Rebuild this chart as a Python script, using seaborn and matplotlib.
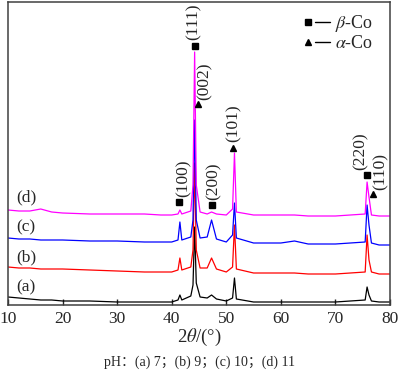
import numpy as np
import pandas as pd
import matplotlib
matplotlib.use("Agg")
import matplotlib.pyplot as plt
from matplotlib.lines import Line2D
from matplotlib.legend_handler import HandlerTuple
import seaborn as sns

# ---------------- data ----------------
two_theta = [10, 12, 14, 16, 18, 20, 25, 30, 35, 38, 40, 41.15, 41.5, 41.85, 43.5, 43.9,
             44.2, 44.5, 45.2, 46.5, 47.3, 48.2, 50.0, 51.15, 51.5, 51.85, 55, 60, 62.5,
             65, 70, 75.45, 75.8, 76.15, 76.6, 78, 80]

int_a = [8, 7, 6, 5, 5, 4, 4, 3, 3, 3, 3, 5, 10, 5, 9, 20,
         78, 22, 8, 7, 10, 6, 4, 7, 27, 6, 3, 3, 3,
         3, 3, 5, 18, 10, 4, 3, 3]
int_b = [38, 37, 37, 36, 36, 36, 35, 34, 33, 33, 33, 35, 47, 35, 38, 55,
         142, 55, 37, 37, 47, 36, 33, 38, 80, 36, 32, 32, 32,
         31, 31, 33, 70, 45, 33, 31, 31]
int_c = [67, 66, 66, 65, 65, 65, 64, 64, 63, 63, 63, 65, 83, 65, 68, 85,
         185, 85, 67, 68, 85, 66, 63, 70, 102, 67, 62, 62, 64,
         61, 61, 63, 100, 80, 62, 60, 60]
int_d = [95, 94, 94, 96, 93, 92, 91, 91, 91, 90, 90, 91, 95, 91, 94, 120,
         253, 120, 93, 91, 93, 91, 90, 96, 152, 93, 90, 90, 90,
         89, 89, 91, 123, 108, 90, 89, 89]

samples = ["(a)", "(b)", "(c)", "(d)"]
colors = ["#000000", "#ff0000", "#0000ff", "#ff00ff"]
sample_label_y = [18, 48, 78, 108]

peak_labels = ["(111)", "(002)", "(101)", "(100)", "(200)", "(220)", "(110)"]
peak_phase = ["beta", "alpha", "alpha", "beta", "beta", "beta", "alpha"]
peak_marker_x = [44.2, 44.9, 51.2, 41.3, 47.4, 75.8, 76.8]
peak_marker_y = [259, 201, 157, 103, 100, 130, 111]
peak_text_x = [44.1, 46.1, 51.4, 42.1, 47.6, 74.7, 78.2]
peak_text_y = [265, 205, 163, 108, 105, 135, 115]

xticks = [10, 20, 30, 40, 50, 60, 70, 80]
caption = "pH：(a) 7；(b) 9；(c) 10；(d) 11"

# ---------------- style ----------------
sns.set_style("white")
plt.rcParams["font.family"] = ["Liberation Serif", "Noto Sans CJK SC"]
plt.rcParams["mathtext.fontset"] = "stix"

fig = plt.figure(figsize=(4.0, 3.72), dpi=100)
ax = fig.add_axes([8 / 400, 67 / 372, 382 / 400, 303 / 372])

rows = []
for name, ys in zip(samples, [int_a, int_b, int_c, int_d]):
    for x, y in zip(two_theta, ys):
        rows.append({"two_theta": x, "intensity": y, "sample": name})
df = pd.DataFrame(rows)

sns.lineplot(data=df, x="two_theta", y="intensity", hue="sample",
             palette=dict(zip(samples, colors)), estimator=None, sort=False,
             linewidth=0.9, legend=False, ax=ax)

for name, y in zip(samples, sample_label_y):
    ax.text(13.3, y, name, ha="center", va="center", fontsize=12.5)

for lab, ph, mx, my, tx, ty in zip(peak_labels, peak_phase, peak_marker_x,
                                    peak_marker_y, peak_text_x, peak_text_y):
    ax.plot([mx], [my], marker="s" if ph == "beta" else "^", color="black",
            markersize=4.5, linestyle="none")
    ax.text(tx, ty, lab, rotation=90, ha="center", va="bottom", fontsize=12.5)

h_beta = (Line2D([], [], marker="s", color="black", markersize=4.5, linestyle="none"),
          Line2D([], [], color="black", linewidth=1.0))
h_alpha = (Line2D([], [], marker="^", color="black", markersize=4.5, linestyle="none"),
           Line2D([], [], color="black", linewidth=1.0))
ax.legend([h_beta, h_alpha], [r"$\beta$-Co", r"$\alpha$-Co"],
          handler_map={tuple: HandlerTuple(ndivide=None, pad=0.0)},
          loc="upper right", bbox_to_anchor=(0.99, 1.005), frameon=False,
          fontsize=13, handlelength=1.6, handletextpad=0.3, labelspacing=0.05,
          borderpad=0.2)

ax.set_xlim(10, 80)
ax.set_ylim(0, 303)
ax.set_xticks(xticks)
ax.set_yticks([])
ax.tick_params(axis="x", direction="in", length=4, width=1, pad=4,
               labelsize=12.5, bottom=True, top=False)
ax.set_xlabel(r"2$\theta$/(°)", fontsize=13.5, labelpad=0)
ax.set_ylabel("")
for s in ax.spines.values():
    s.set_color("#404040")
    s.set_linewidth(1.1)

fig.text(0.5, 10 / 372, caption, ha="center", va="center", fontsize=10)

fig.savefig("out.png", dpi=100)
